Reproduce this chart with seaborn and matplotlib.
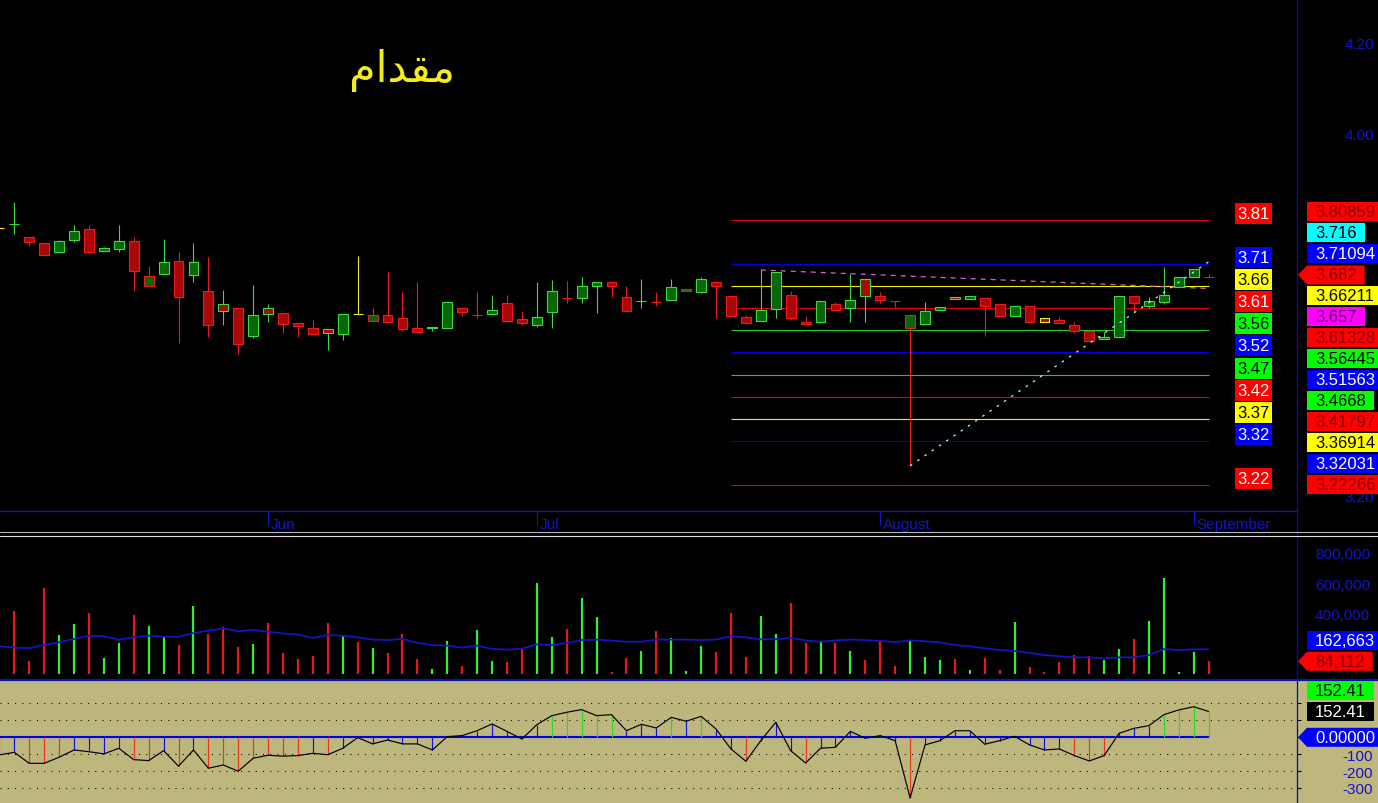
import numpy as np
import pandas as pd
import matplotlib
matplotlib.use("Agg")
import matplotlib.pyplot as plt
import matplotlib.transforms as mtransforms
from matplotlib.patches import Rectangle, Polygon
from matplotlib.lines import Line2D
import seaborn as sns

# ---------------------------------------------------------------- data
# "مقدام" written with Arabic presentation forms in visual order (matplotlib has no shaping)
title_text = "\ufee1\ufe8d\ufeaa\ufed8\ufee3"

bar_index = list(range(-1, 81))
opens = [3.790, 3.800, 3.770, 3.757, 3.738, 3.765, 3.789, 3.739, 3.745, 3.761,
         3.662, 3.688, 3.718, 3.686, 3.651, 3.622, 3.614, 3.551, 3.613, 3.602,
         3.581, 3.569, 3.567, 3.557, 3.600, 3.586, 3.598, 3.591, 3.569, 3.5705,
         3.570, 3.613, 3.5975, 3.601, 3.625, 3.590, 3.577, 3.606, 3.635, 3.635,
         3.662, 3.671, 3.638, 3.6295, 3.628, 3.632, 3.652, 3.650, 3.671, 3.641,
         3.594, 3.586, 3.611, 3.643, 3.582, 3.582, 3.622, 3.613, 3.677, 3.641,
         3.629, 3.570, 3.579, 3.609, 3.638, 3.633, 3.635, 3.622, 3.597, 3.619,
         3.591, 3.587, 3.576, 3.562, 3.545, 3.549, 3.640, 3.619, 3.627, 3.660,
         3.682, 3.682]
highs = [3.790, 3.849, 3.770, 3.757, 3.764, 3.798, 3.798, 3.748, 3.798, 3.770,
         3.707, 3.766, 3.738, 3.757, 3.726, 3.654, 3.614, 3.665, 3.622, 3.602,
         3.581, 3.587, 3.567, 3.600, 3.728, 3.613, 3.693, 3.649, 3.671, 3.571,
         3.627, 3.613, 3.650, 3.643, 3.643, 3.607, 3.671, 3.676, 3.673, 3.682,
         3.671, 3.671, 3.662, 3.678, 3.649, 3.678, 3.656, 3.682, 3.671, 3.641,
         3.599, 3.698, 3.694, 3.651, 3.596, 3.629, 3.627, 3.688, 3.677, 3.649,
         3.629, 3.598, 3.627, 3.616, 3.638, 3.640, 3.635, 3.622, 3.619, 3.619,
         3.591, 3.595, 3.583, 3.562, 3.560, 3.640, 3.640, 3.639, 3.705, 3.682,
         3.700, 3.688]
lows = [3.790, 3.777, 3.752, 3.730, 3.737, 3.760, 3.738, 3.739, 3.738, 3.652,
        3.662, 3.688, 3.536, 3.672, 3.550, 3.577, 3.512, 3.547, 3.582, 3.559,
        3.549, 3.556, 3.522, 3.543, 3.600, 3.586, 3.581, 3.564, 3.560, 3.562,
        3.570, 3.597, 3.591, 3.601, 3.586, 3.576, 3.573, 3.570, 3.625, 3.624,
        3.602, 3.639, 3.608, 3.614, 3.619, 3.632, 3.652, 3.647, 3.591, 3.597,
        3.581, 3.586, 3.592, 3.588, 3.579, 3.582, 3.609, 3.582, 3.582, 3.626,
        3.616, 3.265, 3.579, 3.609, 3.633, 3.633, 3.551, 3.597, 3.597, 3.582,
        3.582, 3.581, 3.558, 3.542, 3.545, 3.549, 3.604, 3.613, 3.623, 3.660,
        3.682, 3.682]
closes = [3.790, 3.800, 3.759, 3.730, 3.761, 3.784, 3.738, 3.746, 3.761, 3.695,
          3.684, 3.716, 3.638, 3.716, 3.576, 3.607, 3.534, 3.598, 3.600, 3.578,
          3.575, 3.556, 3.558, 3.600, 3.600, 3.598, 3.582, 3.568, 3.560, 3.571,
          3.627, 3.604, 3.598, 3.609, 3.586, 3.581, 3.593, 3.651, 3.635, 3.662,
          3.671, 3.663, 3.608, 3.630, 3.628, 3.660, 3.656, 3.677, 3.662, 3.597,
          3.581, 3.610, 3.694, 3.591, 3.579, 3.629, 3.609, 3.631, 3.640, 3.632,
          3.629, 3.598, 3.607, 3.616, 3.633, 3.640, 3.619, 3.597, 3.619, 3.582,
          3.582, 3.581, 3.562, 3.542, 3.549, 3.640, 3.624, 3.629, 3.642, 3.682,
          3.700, 3.682]
volumes = [20000, 418000, 88000, 570000, 257000, 330000, 403000, 106000, 205000, 389000,
           317000, 244000, 191000, 449000, 264000, 308000, 178000, 198000, 334000, 139000,
           99000, 119000, 334000, 257000, 211000, 172000, 139000, 266000, 99000, 33000,
           218000, 53000, 290000, 86000, 79000, 170000, 601000, 244000, 297000, 502000,
           376000, 13000, 106000, 152000, 286000, 238000, 22000, 185000, 147000, 405000,
           112000, 383000, 264000, 469000, 205000, 211000, 207000, 152000, 95000, 220000,
           55000, 218000, 112000, 92000, 101000, 26000, 108000, 26000, 343000, 48000,
           13000, 79000, 125000, 121000, 92000, 165000, 231000, 350000, 634000, 13000,
           145000, 84112]
volume_ma = [183000, 174000, 170000, 191000, 209000, 231000, 253000, 249000, 227000, 242000,
             253000, 246000, 246000, 270000, 286000, 301000, 282000, 290000, 279000, 268000,
             260000, 238000, 257000, 253000, 242000, 227000, 224000, 231000, 205000, 191000,
             187000, 174000, 187000, 165000, 161000, 167000, 196000, 191000, 205000, 224000,
             227000, 220000, 213000, 213000, 227000, 227000, 227000, 224000, 227000, 249000,
             242000, 229000, 229000, 238000, 222000, 213000, 222000, 227000, 224000, 218000,
             211000, 222000, 216000, 209000, 191000, 183000, 170000, 158000, 152000, 139000,
             125000, 117000, 110000, 110000, 104000, 110000, 110000, 125000, 165000, 158000,
             163000, 162663]
cci_values = [-104, -89, -154, -154, -118, -75, -85, -98, -65, -132,
              -138, -79, -171, -75, -183, -164, -201, -124, -106, -112,
              -108, -95, -103, -65, -2, -39, -16, -39, -39, -75,
              4, 10, 39, 79, 35, -10, 75, 128, 148, 164,
              128, 134, 39, 77, 55, 118, 95, 124, 49, -69,
              -142, -20, 89, -79, -152, -65, -59, 35, -6, 10,
              -20, -359, -45, -20, 39, 39, -41, -20, 6, -45,
              -75, -69, -108, -140, -108, 24, 53, 69, 134, 162,
              181, 152.41]

month_ticks = [17, 35, 58, 79]
month_labels = ["Jun", "Jul", "August", "September"]

fib_levels = [3.80859, 3.71094, 3.66211, 3.61328, 3.56445, 3.51563,
              3.4668, 3.41797, 3.36914, 3.32031, 3.22266]
fib_kinds = ["red", "blue", "yellow", "red", "green", "blue",
             "green", "red", "yellow", "blue", "red"]
fib_span = [48, 80]

trend_high_x = [50, 80]
trend_high_y = [3.698, 3.657]
trend_low_x = [60, 80]
trend_low_y = [3.265, 3.716]

# scale ticks; only the ones not hidden behind the value tags carry a label
price_ticks = [3.2, 3.4, 3.6, 3.8, 4.0, 4.2]
price_tick_labels = ["3.20", "", "", "", "4.00", "4.20"]
volume_ticks = [200000, 400000, 600000, 800000]
volume_tick_labels = ["", "400,000", "600,000", "800,000"]
cci_ticks = [-300, -200, -100, 0, 100, 200]
cci_tick_labels = ["-300", "-200", "-100", "", "", ""]

price_tags = [3.80859, 3.716, 3.71094, 3.682, 3.66211, 3.657, 3.61328,
              3.56445, 3.51563, 3.4668, 3.41797, 3.36914, 3.32031, 3.22266]
price_tag_kinds = ["red", "cyan", "blue", "red_arrow", "yellow", "magenta", "red",
                   "green", "blue", "green", "red", "yellow", "blue", "red"]
volume_tags = [84112, 162663]
volume_tag_kinds = ["red_arrow", "blue"]
cci_tags = [0.0, 152.41, 152.41]
cci_tag_kinds = ["blue_arrow", "black", "green"]

# ---------------------------------------------------------------- style
sns.set_theme(style="dark")
plt.rcParams['font.family'] = ['Liberation Sans', 'DejaVu Sans']

W, H = 1378, 804
AX_RIGHT = 1297
PX0, PXSTEP = 14.3, 14.93      # pixel of bar 0, pixels per bar
AXIS_BLUE = '#1414C8'
TAN = '#BDB77E'
GREEN_LINE, GREEN_FILL = '#3CDC3C', '#096609'
RED_LINE, RED_FILL = '#F01A1A', '#A80808'
YELLOW = '#F2F022'
BOX = {
    "red": ('#FF0000', '#8A0000'), "blue": ('#0000FF', 'white'),
    "yellow": ('#FFFF00', 'black'), "green": ('#00FF00', 'black'),
    "cyan": ('#00FFFF', 'black'), "magenta": ('#FF00FF', '#6A006A'),
    "black": ('#000000', 'white'),
    "red_arrow": ('#FF0000', '#8A0000'), "blue_arrow": ('#0000FF', 'white'),
}
LINE_COL = {"red": '#E00000', "blue": '#0000E6', "yellow": '#F0F000', "green": '#22CC22'}
FIB_TXT = {"red": 'white', "blue": 'white', "yellow": 'black', "green": 'black'}

df = pd.DataFrame(dict(i=bar_index, o=opens, h=highs, l=lows, c=closes,
                       v=volumes, ma=volume_ma, cci=cci_values))

fig = plt.figure(figsize=(W / 100, H / 100), dpi=100, facecolor='black')


def rect(x0, y0, x1, y1):
    return [x0 / W, 1 - y1 / H, (x1 - x0) / W, (y1 - y0) / H]


ax_p = fig.add_axes(rect(0, 0, AX_RIGHT, 512))
ax_v = fig.add_axes(rect(0, 537, AX_RIGHT, 679))
ax_c = fig.add_axes(rect(0, 682, AX_RIGHT, 804))

xlim = ((0 - PX0) / PXSTEP, (AX_RIGHT - PX0) / PXSTEP)
for ax, fc in ((ax_p, 'black'), (ax_v, 'black'), (ax_c, TAN)):
    ax.set_facecolor(fc)
    ax.set_xlim(*xlim)
    ax.grid(False)
    for s in ax.spines.values():
        s.set_visible(False)

ax_p.set_ylim(3.1651, 4.2971)
ax_v.set_ylim(-26400, 910800)
ax_c.set_ylim(-388.8, 333.1)

# tan background for indicator's right scale area
fig.add_artist(Rectangle((AX_RIGHT / W, 0), 1 - AX_RIGHT / W, (804 - 682) / H,
                         transform=fig.transFigure, fc=TAN, ec='none', zorder=-5))

# ---------------------------------------------------------------- candles
prev_close = df.c.shift(1)
outline = np.where(df.c > prev_close, GREEN_LINE,
                   np.where(df.c < prev_close, RED_LINE, YELLOW))
fill = np.where(df.c > df.o, GREEN_FILL, RED_FILL)
ax_p.vlines(df.i, df.l, df.h, colors=outline, lw=0.8, zorder=2)
ax_p.bar(df.i, (df.c - df.o).abs(), bottom=np.minimum(df.o, df.c), width=0.66,
         color=fill, edgecolor=outline, linewidth=0.8, zorder=3)

# fibonacci levels
ax_p.hlines(fib_levels, fib_span[0], fib_span[1],
            colors=[LINE_COL[k] for k in fib_kinds], lw=0.8, zorder=1)

# trend lines
sns.lineplot(x=trend_high_x, y=trend_high_y, ax=ax_p, color='#D860D8', lw=0.9,
             linestyle=(0, (4, 4)), legend=False, zorder=4)
sns.lineplot(x=trend_low_x, y=trend_low_y, ax=ax_p, color='#A8FFFF', lw=0.9,
             linestyle=(0, (2, 5)), legend=False, zorder=4)

# ---------------------------------------------------------------- volume
vol_col = np.where(df.c > df.o, '#30F030', '#EE1515')
ax_v.vlines(df.i, 0, df.v, colors=vol_col, lw=1.6, zorder=2)
sns.lineplot(data=df, x='i', y='ma', ax=ax_v, color='#1414C0', lw=1.3,
             estimator=None, sort=False, legend=False, zorder=3)

# ---------------------------------------------------------------- CCI
for t in cci_ticks:
    if t != 0:
        ax_c.axhline(t, color='black', lw=0.75, linestyle=(0, (1, 6)), zorder=1)
cci_col = np.where(df.cci > 100, '#22DD22', np.where(df.cci < -100, '#E83A1A', '#1010E0'))
ax_c.hlines(0, xlim[0], df.i.max(), colors='#0000E6', lw=1.5, zorder=2)
ax_c.vlines(df.i, 0, df.cci, colors=cci_col, lw=0.85, zorder=3)
sns.lineplot(data=df, x='i', y='cci', ax=ax_c, color='black', lw=0.85,
             estimator=None, sort=False, legend=False, zorder=4)

for ax in (ax_p, ax_v, ax_c):
    ax.set_xlabel('')
    ax.set_ylabel('')

# ---------------------------------------------------------------- axes / ticks
ax_p.yaxis.tick_right()
ax_p.set_yticks(price_ticks)
ax_p.set_yticklabels(price_tick_labels)
ax_p.tick_params(axis='y', length=0, pad=34.5, labelsize=11, labelcolor=AXIS_BLUE,
                 right=True, left=False)
ax_p.set_xticks(month_ticks)
ax_p.set_xticklabels(month_labels)
ax_p.tick_params(axis='x', direction='out', length=10, width=0.8, color=AXIS_BLUE,
                 labelcolor=AXIS_BLUE, labelsize=11, pad=-6, bottom=True)
shift = mtransforms.ScaledTranslation(3 / 100, 0, fig.dpi_scale_trans)
for lbl in ax_p.get_xticklabels():
    lbl.set_horizontalalignment('left')
    lbl.set_transform(lbl.get_transform() + shift)
ax_p.spines['bottom'].set_visible(True)
ax_p.spines['bottom'].set_color(AXIS_BLUE)
ax_p.spines['bottom'].set_linewidth(0.9)

ax_v.yaxis.tick_right()
ax_v.set_yticks(volume_ticks)
ax_v.set_yticklabels(volume_tick_labels)
ax_v.tick_params(axis='y', length=0, pad=13, labelsize=11, labelcolor=AXIS_BLUE,
                 right=True, left=False)
ax_v.set_xticks([])

ax_c.yaxis.tick_right()
ax_c.set_yticks(cci_ticks)
ax_c.set_yticklabels(cci_tick_labels)
ax_c.tick_params(axis='y', length=3, width=0.8, color='black', pad=30, labelsize=11,
                 labelcolor=AXIS_BLUE, right=True, left=False)
ax_c.set_xticks([])

# separators
fig.add_artist(Line2D([AX_RIGHT / W] * 2, [0, 1], transform=fig.transFigure,
                      color='#0000F0', lw=0.9, zorder=6))
for yy, col in ((533, '#B8B8B8'), (536.5, '#E0E0E0')):
    fig.add_artist(Line2D([0, 1], [1 - yy / H] * 2, transform=fig.transFigure,
                          color=col, lw=0.8, zorder=6))
fig.add_artist(Line2D([0, 1], [1 - 681 / H] * 2, transform=fig.transFigure,
                      color='#1010B0', lw=1.6, zorder=6))

# title
fig.text(402 / W, 1 - 70 / H, title_text, color='#F4EC1C', fontsize=31,
         ha='center', va='center', family=['DejaVu Sans'])

# ---------------------------------------------------------------- value tags
renderer = fig.canvas.get_renderer()


def to_py(ax, v):
    return H - ax.transData.transform((0, v))[1]


def tag(px_left, py, text, kind, fontsize=12, height=19, pad=8, width=None, text_color=None):
    fc, tc = BOX[kind]
    if text_color is not None:
        tc = text_color
    if width is None:
        t = fig.text((px_left + pad) / W, 1 - py / H, text, color=tc, fontsize=fontsize,
                     ha='left', va='center', zorder=11)
        tw = t.get_window_extent(renderer).width
        right = px_left + pad + tw + pad
    else:
        t = fig.text((px_left + width / 2) / W, 1 - py / H, text, color=tc,
                     fontsize=fontsize, ha='center', va='center', zorder=11)
        right = px_left + width
    top, bot = py - height / 2, py + height / 2
    pts = [(px_left, top), (right, top), (right, bot), (px_left, bot)]
    if kind.endswith('arrow'):
        pts = pts + [(px_left - 9, py)]
    fig.add_artist(Polygon([(x / W, 1 - y / H) for x, y in pts], closed=True,
                           transform=fig.transFigure, fc=fc, ec='none', zorder=10))


def fmt_price(v):
    return f"{v:.5f}".rstrip('0')


# price tags: contiguous stack anchored at the lowest tag
base = to_py(ax_p, price_tags[-1])
n = len(price_tags)
for k, (v, kind) in enumerate(zip(price_tags, price_tag_kinds)):
    tag(1307, base - 21 * (n - 1 - k), fmt_price(v), kind)

# fib tags next to the levels
for v, kind in zip(fib_levels, fib_kinds):
    tag(1235, to_py(ax_p, v) - 6.5, f"{v:.2f}", kind, height=21, width=37,
        text_color=FIB_TXT[kind])


def stack(ax, values):
    out, last = [], None
    for v in values:
        py = to_py(ax, v)
        if last is not None:
            py = min(py, last - 21)
        out.append(py)
        last = py
    return out


for v, kind, py in zip(volume_tags, volume_tag_kinds, stack(ax_v, volume_tags)):
    tag(1307, py, f"{v:,.0f}", kind)
for v, kind, py in zip(cci_tags, cci_tag_kinds, stack(ax_c, cci_tags)):
    tag(1307, py, f"{v:.5f}" if v == 0 else f"{v:.2f}", kind)

fig.savefig("out.png", dpi=100, facecolor='black')
